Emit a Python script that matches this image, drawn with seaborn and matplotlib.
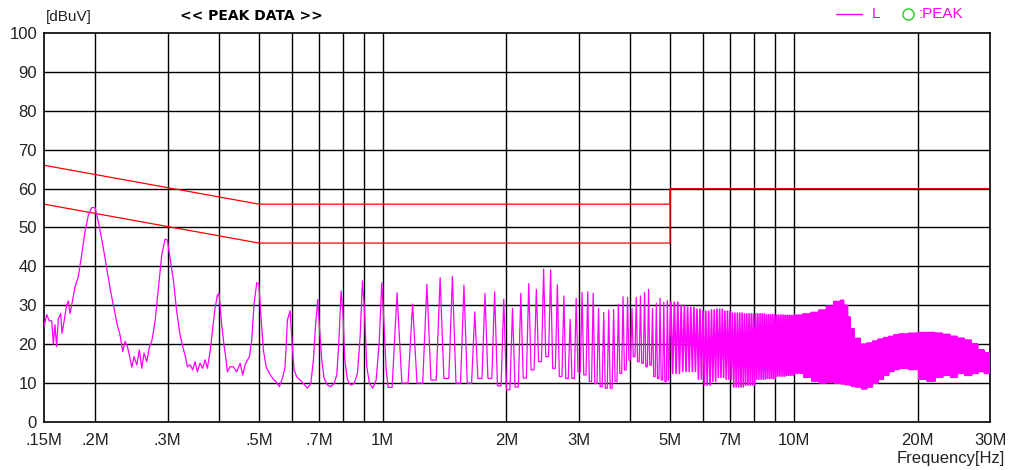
import numpy as np
import matplotlib
matplotlib.use("Agg")
import matplotlib.pyplot as plt
from matplotlib.lines import Line2D
import seaborn as sns

# ---------------------------------------------------------------------------
# Conducted emission scan, line L, peak detector
# ---------------------------------------------------------------------------

# Switching fundamental (MHz); the spectrum is a comb of its harmonics
fund_mhz = 0.0985

# 0.15 - 1.03 MHz : traced levels of the broad low-order harmonics
seg_a_mhz = [0.1500, 0.1523, 0.1545, 0.1566, 0.1581, 0.1595, 0.1610, 0.1625, 0.1647, 0.1659,
             0.1678, 0.1703, 0.1719, 0.1735, 0.1752, 0.1785, 0.1818, 0.1852, 0.1887, 0.1923,
             0.1959, 0.1996, 0.2034, 0.2092, 0.2131, 0.2171, 0.2221, 0.2262, 0.2297, 0.2331,
             0.2362, 0.2393, 0.2420, 0.2452, 0.2484, 0.2522, 0.2559, 0.2593, 0.2627, 0.2667,
             0.2707, 0.2742, 0.2794, 0.2847, 0.2900, 0.2955, 0.2994, 0.3039, 0.3096, 0.3155,
             0.3214, 0.3262, 0.3305, 0.3349, 0.3399, 0.3450, 0.3495, 0.3541, 0.3594, 0.3649,
             0.3697, 0.3745, 0.3802, 0.3859, 0.3909, 0.3961, 0.3998, 0.4058, 0.4111, 0.4158,
             0.4189, 0.4252, 0.4332, 0.4414, 0.4499, 0.4566, 0.4626, 0.4687, 0.4740, 0.4802,
             0.4865, 0.4939, 0.4994, 0.5050, 0.5126, 0.5204, 0.5302, 0.5402, 0.5504, 0.5607,
             0.5713, 0.5788, 0.5864, 0.5952, 0.6019, 0.6087, 0.6179, 0.6295, 0.6414, 0.6559,
             0.6683, 0.6783, 0.6860, 0.6950, 0.7015, 0.7108, 0.7201, 0.7337, 0.7475, 0.7616,
             0.7731, 0.7818, 0.7921, 0.7996, 0.8086, 0.8207, 0.8362, 0.8520, 0.8680, 0.8811,
             0.8927, 0.9028, 0.9147, 0.9285, 0.9460, 0.9638, 0.9801, 0.9949, 1.0080, 1.0193,
             1.0308]
seg_a_dbuv = [24.5, 27.6, 26.0, 26.0, 20.0, 25.0, 19.4, 26.5, 27.9, 22.8,
              25.8, 30.1, 31.1, 27.9, 30.1, 34.8, 37.4, 42.9, 48.9, 53.2,
              55.1, 55.1, 51.5, 44.6, 39.5, 34.4, 29.2, 24.9, 22.4, 18.1,
              20.7, 19.4, 17.2, 14.1, 16.8, 14.7, 18.5, 13.8, 17.7, 15.5,
              19.4, 20.7, 25.8, 34.4, 42.9, 47.0, 46.8, 42.1, 36.5, 28.3,
              22.4, 19.4, 17.2, 14.2, 14.7, 13.4, 15.5, 12.9, 15.1, 13.8,
              16.0, 13.8, 18.1, 24.1, 29.2, 32.6, 33.1, 24.9, 19.8, 16.0,
              12.9, 14.2, 14.2, 12.9, 15.1, 12.1, 14.7, 15.9, 16.8, 21.1,
              30.5, 35.8, 35.6, 27.9, 18.5, 14.2, 12.5, 11.2, 10.3, 9.1,
              11.6, 14.2, 26.2, 28.6, 20.2, 13.4, 11.6, 10.8, 9.9, 8.7,
              9.9, 15.9, 24.5, 31.5, 24.5, 15.9, 11.2, 9.5, 9.1, 9.9,
              12.1, 20.2, 33.7, 28.8, 15.9, 10.8, 9.5, 9.9, 12.5, 21.9,
              36.3, 28.8, 14.2, 9.9, 8.7, 10.8, 20.2, 35.8, 24.5, 13.4,
              8.9]

# Harmonics 11 ... 50 : peak level and the floor that follows each one
harm_first = 11
harm_peak_dbuv = [33.2, 30.3, 35.4, 37.1, 37.4, 35.2, 28.3, 33.1, 33.5, 31.6,
                  29.2, 33.1, 35.6, 34.1, 39.3, 39.1, 35.3, 32.4, 26.4, 31.8,
                  33.3, 33.5, 33.1, 29.2, 28.2, 28.8, 28.9, 30.3, 32.2, 32.0,
                  29.2, 32.0, 32.4, 33.3, 34.1, 29.2, 30.5, 31.8, 30.8, 31.2]
harm_floor_dbuv = [10.0, 10.0, 10.8, 11.2, 10.0, 10.0, 11.2, 11.2, 9.3, 8.3,
                   9.0, 11.3, 13.4, 15.5, 16.8, 13.8, 11.7, 11.2, 11.2, 12.9,
                   12.1, 10.4, 9.9, 9.1, 8.7, 8.7, 10.4, 12.5, 13.4, 15.9,
                   16.8, 15.5, 15.1, 14.2, 14.6, 11.7, 11.2, 10.8, 10.4, 10.8]

# 5 - 30 MHz : dense harmonics, top and bottom of the band per sub-range
band_lo_mhz = [5.0, 5.25, 5.5, 5.75, 6.0, 6.25, 6.5, 6.75, 7.0, 7.5,
               8.0, 8.5, 9.0, 9.5, 10.0, 10.5, 11.0, 11.5, 12.0, 12.5,
               13.0, 13.25, 13.5, 13.75, 14.0, 14.5, 15.0, 15.5, 16.0, 16.5,
               17.0, 17.5, 18.0, 19.0, 20.0, 21.0, 22.0, 23.0, 24.0, 25.0,
               26.0, 27.0, 28.0, 29.0]
band_top_dbuv = [30.8, 30.0, 29.5, 29.0, 28.5, 28.8, 29.0, 28.5, 28.0, 27.8,
                 27.8, 27.6, 27.5, 27.4, 27.5, 27.8, 28.2, 28.8, 29.8, 31.0,
                 31.3, 30.0, 27.0, 24.0, 21.5, 20.0, 20.3, 20.8, 21.3, 21.7,
                 22.0, 22.4, 22.6, 22.8, 23.0, 23.0, 22.8, 22.5, 22.0, 21.5,
                 21.0, 20.0, 18.5, 17.8]
band_bot_dbuv = [12.5, 13.0, 13.0, 11.0, 9.5, 10.5, 11.5, 11.0, 9.0, 9.5,
                 11.0, 11.2, 11.8, 12.0, 12.5, 11.5, 10.5, 10.0, 10.2, 10.0,
                 9.8, 9.6, 9.5, 9.2, 9.0, 8.5, 9.0, 10.0, 11.0, 12.0,
                 13.0, 13.5, 13.8, 13.5, 11.0, 10.5, 11.5, 12.0, 11.5, 12.5,
                 12.0, 12.5, 13.0, 12.5]

# Limit lines (quasi-peak, and average up to the 5 MHz step)
qp_mhz = [0.15, 0.5, 5.0, 5.0, 30.0]
qp_dbuv = [66, 56, 56, 60, 60]
av_mhz = [0.15, 0.5, 5.0, 5.0]
av_dbuv = [56, 46, 46, 60]

# Axes decoration
grid_mhz = [0.2, 0.3, 0.4, 0.5, 0.6, 0.7, 0.8, 0.9, 1, 2, 3, 4, 5, 6, 7, 8, 9, 10, 20]
tick_mhz = [0.15, 0.2, 0.3, 0.5, 0.7, 1, 2, 3, 5, 7, 10, 20, 30]
tick_text = [".15M", ".2M", ".3M", ".5M", ".7M", "1M", "2M", "3M", "5M", "7M",
             "10M", "20M", "30M"]
y_ticks = list(range(0, 101, 10))

# ---------------------------------------------------------------------------
# Assemble the trace vertices
# ---------------------------------------------------------------------------
low_f = list(seg_a_mhz)
low_l = list(seg_a_dbuv)
left = seg_a_dbuv[-1]
for i, pk in enumerate(harm_peak_dbuv):
    n = harm_first + i
    low_f += [(n - 0.3) * fund_mhz, n * fund_mhz, (n + 0.3) * fund_mhz]
    low_l += [left, pk, harm_floor_dbuv[i]]
    left = harm_floor_dbuv[i]

high_f = [low_f[-1]]
high_l = [low_l[-1]]
n = harm_first + len(harm_peak_dbuv)
while n * fund_mhz <= 30.3:
    f = n * fund_mhz
    b = int(np.searchsorted(band_lo_mhz, f, side="right")) - 1
    high_f += [f, (n + 0.5) * fund_mhz]
    high_l += [band_top_dbuv[b], band_bot_dbuv[b]]
    n += 1

# ---------------------------------------------------------------------------
# Figure
# ---------------------------------------------------------------------------
sns.set_style("white")
plt.rcParams["font.family"] = ["Liberation Sans", "DejaVu Sans"]

W, H = 1010, 470
fig = plt.figure(figsize=(W / 100, H / 100), dpi=100)
ax = fig.add_axes([44 / W, 48 / H, 946 / W, 389 / H])
ax.set_xscale("log")
ax.set_xlim(0.15, 30)
ax.set_ylim(0, 100)

for g in grid_mhz:
    ax.axvline(g, color="black", lw=1.0, zorder=1, snap=True)
for yv in y_ticks[1:-1]:
    ax.axhline(yv, color="black", lw=1.0, zorder=1, snap=True)

sns.lineplot(x=qp_mhz, y=qp_dbuv, estimator=None, sort=False, color="#ff0000",
             lw=0.9, ax=ax, zorder=2)
sns.lineplot(x=av_mhz, y=av_dbuv, estimator=None, sort=False, color="#ff0000",
             lw=0.9, ax=ax, zorder=2)
sns.lineplot(x=low_f, y=low_l, estimator=None, sort=False, color="#ff00ff",
             lw=0.9, ax=ax, zorder=3)
sns.lineplot(x=high_f, y=high_l, estimator=None, sort=False, color="#ff00ff",
             lw=1.2, ax=ax, zorder=3)

ax.set_xticks(tick_mhz)
ax.set_xticklabels(tick_text)
ax.xaxis.set_minor_locator(matplotlib.ticker.NullLocator())
ax.set_yticks(y_ticks)
ax.set_yticklabels([str(v) for v in y_ticks])
ax.tick_params(axis="x", length=0, pad=8, labelsize=12, colors="#222222")
ax.tick_params(axis="y", length=0, pad=5, labelsize=12, colors="#222222")
ax.set_xlabel("")
ax.set_ylabel("")
for s in ax.spines.values():
    s.set_color("black")
    s.set_linewidth(1.2)
    s.set_visible(True)

# Header texts
fig.text(46 / W, 1 - 17 / H, "[dBuV]", fontsize=11, color="#222222", va="center")
fig.text(251 / W, 1 - 16 / H, "<< PEAK DATA >>", fontsize=10, fontweight="bold",
         family=["DejaVu Sans"], color="black", ha="center", va="center")
fig.text(1005 / W, 1 - 459 / H, "Frequency[Hz]", fontsize=12, color="#222222",
         ha="right", va="center")

# Legend
ly = 1 - 14 / H
fig.add_artist(Line2D([836 / W, 862 / W], [ly, ly], color="#ff00ff", lw=1))
fig.text(872 / W, ly, "L", fontsize=11, color="#ff00ff", va="center")
fig.add_artist(Line2D([908 / W], [ly], marker="o", mfc="none", mec="#22cc22",
                      ms=8, mew=1, lw=0))
fig.text(919 / W, ly, ":PEAK", fontsize=11, color="#ff00ff", va="center")

fig.savefig("out.png", dpi=100)
